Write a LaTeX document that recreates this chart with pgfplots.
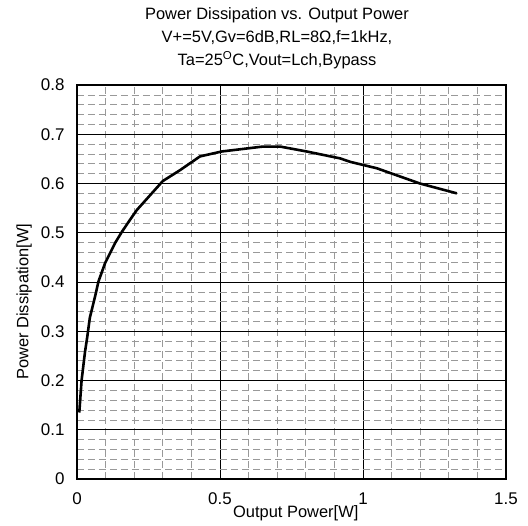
\documentclass[border=0pt]{standalone}
\usepackage{fontspec}
\setmainfont{Liberation Sans}
\usepackage{pgfplots}
\pgfplotsset{compat=1.18}
\begin{document}
\begin{tikzpicture}
\useasboundingbox (-77bp,-47bp) rectangle (451bp,479bp);
\begin{axis}[
  scale only axis, width=429bp, height=394bp,
  at={(0,0)}, anchor=south west,
  xmin=0, xmax=1.5, ymin=0, ymax=0.8,
  xtick={0,0.5,1,1.5},
  ytick={0,0.1,0.2,0.3,0.4,0.5,0.6,0.7,0.8},
  minor x tick num=4, minor y tick num=4,
  grid=both,
  major grid style={black, line width=0.7bp},
  minor grid style={black!40, line width=0.7bp, dash pattern=on 7bp off 4bp},
  axis line style={black, line width=1.2bp},
  major tick length=0pt, minor tick length=0pt,
  tick label style={font=\fontsize{17}{20}\selectfont},
  /pgf/number format/assume math mode=true,
  xticklabel style={yshift=-10bp},
  yticklabel style={xshift=-9bp},
  xlabel={Output Power[W]},
  ylabel={Power Dissipation[W]},
  label style={font=\fontsize{16.5}{19}\selectfont},
  xlabel style={at={(axis description cs:0.51,0)}, anchor=center, yshift=-34bp},
  ylabel style={at={(axis description cs:-0.123,0.45)}, anchor=center},
]
\addplot[black, line width=2.6bp, line join=round] coordinates {
(0.008,0.135) (0.016,0.200) (0.028,0.258) (0.036,0.289) (0.045,0.328)
(0.063,0.370) (0.075,0.401) (0.098,0.438) (0.133,0.479) (0.156,0.501)
(0.185,0.526) (0.209,0.546) (0.300,0.605) (0.360,0.627) (0.430,0.655)
(0.506,0.665) (0.650,0.675) (0.710,0.675) (0.803,0.665) (0.920,0.651)
(0.955,0.644) (1.048,0.631) (1.199,0.600) (1.328,0.580)
};
\end{axis}
\node[font=\fontsize{16.5}{19}\selectfont, anchor=base] at (200bp,459bp) {Power Dissipation vs. Output Power};
\node[font=\fontsize{16.5}{19}\selectfont, anchor=base] at (200bp,436bp) {V+=5V,Gv=6dB,RL=8Ω,f=1kHz,};
\node[font=\fontsize{16.5}{19}\selectfont, anchor=base] at (200bp,413bp) {Ta=25\textsuperscript{O}C,Vout=Lch,Bypass};
\end{tikzpicture}
\end{document}
